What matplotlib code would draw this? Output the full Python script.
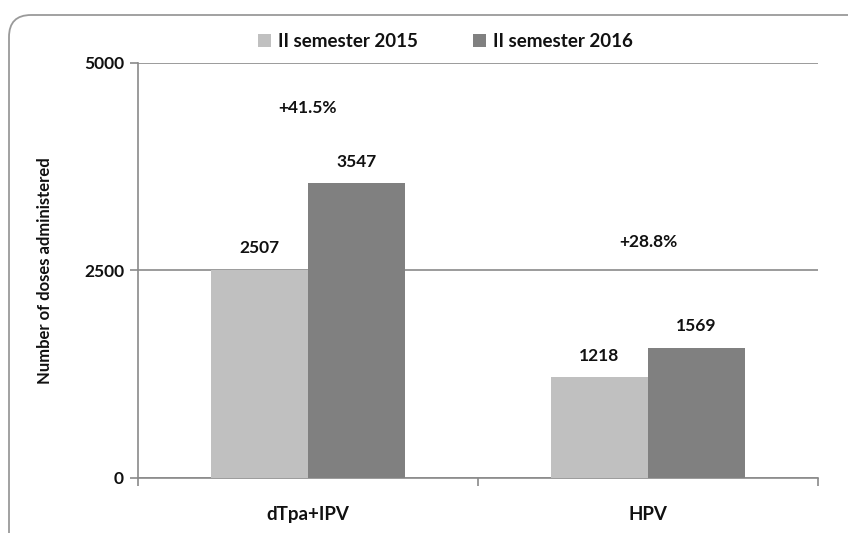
import matplotlib
matplotlib.use("Agg")
import matplotlib.pyplot as plt
import numpy as np
from matplotlib.patches import FancyBboxPatch
from matplotlib.transforms import IdentityTransform

categories = ["dTpa+IPV", "HPV"]
series_names = ["II semester 2015", "II semester 2016"]
values_2015 = [2507, 1218]
values_2016 = [3547, 1569]
changes = ["+41.5%", "+28.8%"]
yticks = [0, 2500, 5000]

# layout (label placement, in data units)
change_y = [4450, 2840]
label_pad = 255

plt.rcParams['font.family'] = ['Lato', 'DejaVu Sans']

fig = plt.figure(figsize=(8.48, 5.33), dpi=100)
frame = FancyBboxPatch((9, -40), 900, 558, boxstyle="round,pad=0,rounding_size=22",
                       transform=IdentityTransform(), facecolor="white",
                       edgecolor="#9a9a9a", linewidth=1.3, zorder=0)
fig.add_artist(frame)

ax = fig.add_axes([0.1627, 0.1032, 0.8019, 0.7795])
ax.set_facecolor("none")
x = np.arange(len(categories))
w = 0.285
c1, c2 = "#c0c0c0", "#808080"
b1 = ax.bar(x - w/2, values_2015, w, color=c1, label=series_names[0], zorder=3)
b2 = ax.bar(x + w/2, values_2016, w, color=c2, label=series_names[1], zorder=3)

for bars, vals in ((b1, values_2015), (b2, values_2016)):
    for r, v in zip(bars, vals):
        ax.text(r.get_x() + r.get_width()/2, v + label_pad, f"{v}", ha="center", va="center",
                fontsize=12.5, fontweight="bold", color="#111111")

for xi, t, yy in zip(x, changes, change_y):
    ax.text(xi, yy, t, ha="center", va="center", fontsize=12.5, fontweight="bold", color="#111111")

ax.set_xlim(-0.5, 1.5)
ax.set_ylim(0, 5000)
ax.set_yticks(yticks)
ax.set_yticklabels([str(t) for t in yticks], fontsize=12.5, fontweight="bold", color="#111111")
ax.yaxis.grid(True, color="#8a8a8a", linewidth=1.2, zorder=1)
ax.set_axisbelow(True)
ax.set_xticks(x)
ax.set_xticklabels(categories, fontsize=13.5, fontweight="bold", color="#111111")
ax.set_xticks([-0.5, 0.5, 1.5], minor=True)
ax.tick_params(axis="x", which="major", length=0, pad=20)
ax.tick_params(axis="x", which="minor", length=6, color="#8a8a8a", width=1.2)
ax.tick_params(axis="y", length=6, color="#8a8a8a", width=1.2, pad=4)
for s in ["top", "right"]:
    ax.spines[s].set_visible(False)
for s in ["left", "bottom"]:
    ax.spines[s].set_color("#8a8a8a")
    ax.spines[s].set_linewidth(1.2)

ax.set_ylabel("Number of doses administered", fontsize=12, fontweight="bold",
              labelpad=22, color="#111111")

leg = ax.legend(loc="lower center", bbox_to_anchor=(0.452, 0.99), ncol=2, frameon=False,
                prop={"weight": "bold", "size": 13.5}, handlelength=0.7,
                handleheight=0.7, columnspacing=2.9, handletextpad=0.4)
for t in leg.get_texts():
    t.set_color("#111111")

fig.savefig("out.png", dpi=100)
